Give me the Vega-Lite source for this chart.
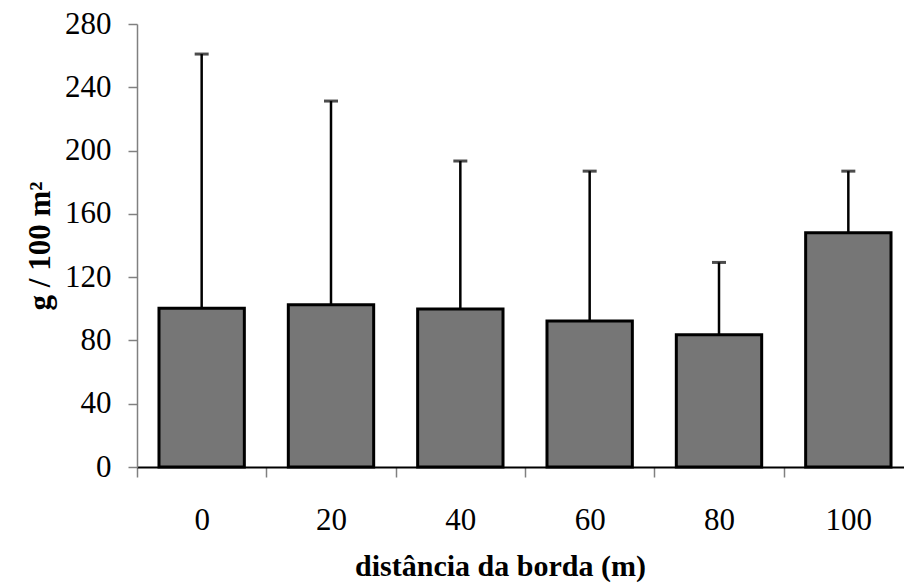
{
  "$schema": "https://vega.github.io/schema/vega-lite/v6.json",
  "width": 767,
  "height": 443,
  "autosize": {"type": "none"},
  "padding": {"left": 137, "top": 24, "right": 0, "bottom": 116},
  "background": "white",
  "config": {"view": {"stroke": null}, "font": "Liberation Serif"},
  "data": {
    "values": [
      {"dist": "0", "mean": 100.3, "upper": 261},
      {"dist": "20", "mean": 102.6, "upper": 231.3},
      {"dist": "40", "mean": 99.9, "upper": 193.4},
      {"dist": "60", "mean": 92.3, "upper": 187},
      {"dist": "80", "mean": 83.6, "upper": 129.3},
      {"dist": "100", "mean": 148.1, "upper": 187}
    ]
  },
  "encoding": {
    "x": {
      "field": "dist",
      "type": "nominal",
      "sort": null,
      "scale": {"range": [0, 776], "paddingInner": 0, "paddingOuter": 0},
      "axis": {
        "title": "distância da borda (m)",
        "labelAngle": 0,
        "tickBand": "extent",
        "domainColor": "black",
        "domainWidth": 2,
        "tickColor": "#808080",
        "tickWidth": 1.5,
        "tickSize": 10,
        "labelFont": "Liberation Serif",
        "labelFontSize": 31,
        "labelColor": "black",
        "labelBaseline": "alphabetic",
        "labelPadding": 52,
        "titleFont": "Liberation Serif",
        "titleFontSize": 30,
        "titleFontWeight": "bold",
        "titleColor": "black",
        "titleX": 363,
        "titleY": 108,
        "titleAlign": "center",
        "titleBaseline": "alphabetic"
      }
    }
  },
  "layer": [
    {
      "mark": {"type": "bar", "fill": "#767676", "stroke": "black", "strokeWidth": 3, "width": {"band": 0.66}},
      "encoding": {
        "y": {
          "field": "mean",
          "type": "quantitative",
          "scale": {"domain": [0, 280], "nice": false},
          "axis": {
            "title": "g / 100 m²",
            "values": [0, 40, 80, 120, 160, 200, 240, 280],
            "grid": false,
            "domainColor": "#808080",
            "domainWidth": 1.5,
            "tickColor": "#808080",
            "tickWidth": 1.5,
            "tickSize": 9,
            "labelFont": "Liberation Serif",
            "labelFontSize": 31,
            "labelColor": "black",
            "labelPadding": 17,
            "titleFont": "Liberation Serif",
            "titleFontSize": 31,
            "titleFontWeight": "bold",
            "titleColor": "black",
            "titleX": -88,
            "titleBaseline": "alphabetic"
          }
        }
      }
    },
    {
      "mark": {"type": "rule", "strokeWidth": 2.5, "color": "black"},
      "encoding": {
        "y": {"field": "mean", "type": "quantitative", "title": "g / 100 m²"},
        "y2": {"field": "upper"}
      }
    },
    {
      "mark": {"type": "tick", "size": 14, "thickness": 3, "color": "black"},
      "encoding": {
        "y": {"field": "upper", "type": "quantitative", "title": "g / 100 m²"}
      }
    }
  ]
}
